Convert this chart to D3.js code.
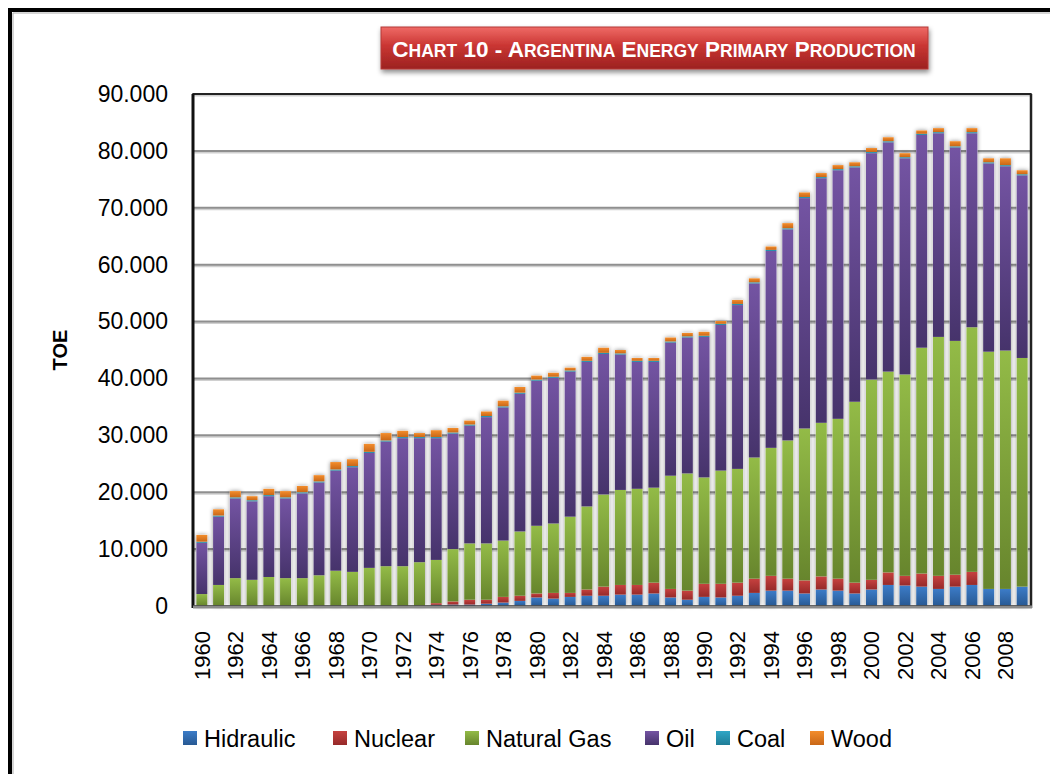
<!DOCTYPE html>
<html>
<head>
<meta charset="utf-8">
<script src="https://cdn.jsdelivr.net/npm/d3@7"></script>
<style>
  html, body { margin: 0; padding: 0; background: #fff; }
  svg { display: block; font-family: 'Liberation Sans', Arial, sans-serif; }
</style>
</head>
<body>
<svg id="chart" width="1050" height="774"></svg>
<script>
'use strict';

// data (thousand TOE)
var years = [1960, 1961, 1962, 1963, 1964, 1965, 1966, 1967, 1968, 1969,
  1970, 1971, 1972, 1973, 1974, 1975, 1976, 1977, 1978, 1979,
  1980, 1981, 1982, 1983, 1984, 1985, 1986, 1987, 1988, 1989,
  1990, 1991, 1992, 1993, 1994, 1995, 1996, 1997, 1998, 1999,
  2000, 2001, 2002, 2003, 2004, 2005, 2006, 2007, 2008, 2009];

var hidraulic = [0, 0, 0, 0, 0, 0, 0, 0, 0, 0,
  0, 0, 0, 0, 0.2, 0.25, 0.25, 0.4, 0.6, 0.9,
  1.5, 1.3, 1.6, 1.8, 1.8, 2.0, 2.0, 2.2, 1.5, 1.1,
  1.6, 1.5, 1.8, 2.3, 2.7, 2.7, 2.2, 2.9, 2.7, 2.2,
  2.9, 3.7, 3.6, 3.4, 3.0, 3.4, 3.7, 3.0, 3.0, 3.4];

var nuclear = [0, 0, 0, 0, 0, 0, 0, 0, 0, 0,
  0, 0, 0, 0, 0.3, 0.55, 0.85, 0.7, 1.0, 0.9,
  0.7, 1.0, 0.7, 1.1, 1.6, 1.7, 1.7, 1.9, 1.5, 1.6,
  2.3, 2.4, 2.3, 2.5, 2.6, 2.1, 2.3, 2.3, 2.1, 1.9,
  1.7, 2.2, 1.7, 2.3, 2.3, 2.1, 2.3, 0, 0, 0];

var naturalGas = [2.1, 3.7, 4.9, 4.6, 5.1, 4.9, 4.9, 5.4, 6.2, 6.0,
  6.7, 7.0, 7.0, 7.7, 7.6, 9.2, 9.9, 9.9, 9.9, 11.3,
  11.9, 12.2, 13.4, 14.6, 16.2, 16.7, 16.9, 16.7, 19.9, 20.6,
  18.7, 19.9, 20.0, 21.3, 22.5, 24.3, 26.7, 27.0, 28.1, 31.8,
  35.2, 35.3, 35.4, 39.7, 42.0, 41.1, 43.0, 41.7, 41.9, 40.2];

var oil = [9.0, 12.0, 14.0, 13.8, 14.2, 14.0, 14.9, 16.3, 17.6, 18.4,
  20.2, 21.9, 22.5, 21.8, 21.4, 20.3, 20.7, 22.2, 23.4, 24.2,
  25.5, 25.6, 25.5, 25.4, 24.7, 23.8, 22.3, 22.1, 23.4, 23.9,
  24.7, 25.6, 28.8, 30.6, 34.6, 37.1, 40.5, 43.0, 43.7, 41.2,
  39.8, 40.3, 38.0, 37.4, 35.8, 34.0, 34.1, 33.1, 32.4, 32.1];

var coal = [0.2, 0.2, 0.2, 0.2, 0.2, 0.2, 0.2, 0.2, 0.2, 0.2,
  0.2, 0.2, 0.2, 0.2, 0.2, 0.2, 0.2, 0.2, 0.2, 0.2,
  0.2, 0.2, 0.2, 0.2, 0.2, 0.2, 0.2, 0.2, 0.2, 0.2,
  0.2, 0.2, 0.2, 0.2, 0.2, 0.2, 0.2, 0.2, 0.2, 0.2,
  0.2, 0.2, 0.2, 0.2, 0.2, 0.2, 0.2, 0.2, 0.2, 0.2];

var wood = [1.2, 1.1, 1.1, 0.7, 1.1, 1.1, 1.1, 1.1, 1.3, 1.2,
  1.4, 1.3, 1.1, 0.7, 1.2, 0.8, 0.7, 0.8, 1.0, 1.0,
  0.7, 0.7, 0.5, 0.7, 0.9, 0.6, 0.5, 0.5, 0.7, 0.6,
  0.7, 0.5, 0.7, 0.7, 0.6, 0.9, 0.8, 0.7, 0.7, 0.7,
  0.7, 0.7, 0.7, 0.6, 0.7, 0.9, 0.7, 0.7, 1.2, 0.7];

var seriesNames = ['Hidraulic', 'Nuclear', 'Natural Gas', 'Oil', 'Coal', 'Wood'];
var seriesValues = [hidraulic, nuclear, naturalGas, oil, coal, wood];
var yTicks = [0, 10, 20, 30, 40, 50, 60, 70, 80, 90];
var titleWords = ['CHART', '10', '-', 'ARGENTINA', 'ENERGY', 'PRIMARY', 'PRODUCTION'];

// light (top) / dark (bottom) gradient stops per series
var colors = [
  ['#3c7cc8', '#285993'],
  ['#c6413f', '#962a29'],
  ['#93bb47', '#67852d'],
  ['#7454a3', '#46336b'],
  ['#2fa6c6', '#1f7d97'],
  ['#f38d2c', '#c96717']
];

var rows = years.map(function(y, i){
  var r = { year: y };
  seriesNames.forEach(function(s, j){ r[s] = seriesValues[j][i]; });
  return r;
});

var svg = d3.select('#chart');
var defs = svg.append('defs');

colors.forEach(function(c, i){
  var g = defs.append('linearGradient').attr('id', 'grad' + i)
    .attr('x1', 0).attr('y1', 0).attr('x2', 0).attr('y2', 1);
  g.append('stop').attr('offset', '0%').attr('stop-color', c[0]);
  g.append('stop').attr('offset', '100%').attr('stop-color', c[1]);
});

var tg = defs.append('linearGradient').attr('id', 'titleGrad')
  .attr('x1', 0).attr('y1', 0).attr('x2', 0).attr('y2', 1);
tg.append('stop').attr('offset', '0%').attr('stop-color', '#ef6a66');
tg.append('stop').attr('offset', '45%').attr('stop-color', '#c93532');
tg.append('stop').attr('offset', '100%').attr('stop-color', '#9c2220');

var shadow = defs.append('filter').attr('id', 'barShadow')
  .attr('x', '-50%').attr('y', '-5%').attr('width', '200%').attr('height', '110%');
shadow.append('feDropShadow').attr('dx', 0).attr('dy', 0).attr('stdDeviation', 2.2)
  .attr('flood-color', '#000').attr('flood-opacity', 0.45);

var tshadow = defs.append('filter').attr('id', 'titleShadow')
  .attr('x', '-5%').attr('y', '-30%').attr('width', '110%').attr('height', '170%');
tshadow.append('feDropShadow').attr('dx', 1).attr('dy', 3).attr('stdDeviation', 2.5)
  .attr('flood-color', '#000').attr('flood-opacity', 0.45);

// outer frame
svg.append('path').attr('d', 'M10,774V10H1050').attr('fill', 'none')
  .attr('stroke', '#000').attr('stroke-width', 4);
svg.append('path').attr('d', 'M13,774V13H1050').attr('fill', 'none')
  .attr('stroke', '#aaa').attr('stroke-width', 1);

var plot = { left: 193, right: 1031, top: 94, bottom: 606 };

var x = d3.scaleBand().domain(years).range([plot.left, plot.right])
  .paddingInner(0.343).paddingOuter(0.2);
var y = d3.scaleLinear().domain([0, 90]).range([plot.bottom, plot.top]);

// gridlines
var grid = svg.append('g');
yTicks.filter(function(t){ return t > 0; }).forEach(function(t){
  grid.append('line').attr('x1', plot.left).attr('x2', plot.right)
    .attr('y1', y(t) + 1.5).attr('y2', y(t) + 1.5)
    .attr('stroke', '#d0d0d0').attr('stroke-width', 2);
  grid.append('line').attr('x1', plot.left).attr('x2', plot.right)
    .attr('y1', y(t)).attr('y2', y(t))
    .attr('stroke', '#8f8f8f').attr('stroke-width', 2);
});

// stacked bars
var stack = d3.stack().keys(seriesNames);
var stacked = stack(rows);

var totals = rows.map(function(r){
  return d3.sum(seriesNames, function(s){ return r[s]; });
});

svg.append('g').selectAll('rect')
  .data(rows).enter().append('rect')
  .attr('x', function(d){ return x(d.year); })
  .attr('width', x.bandwidth())
  .attr('y', function(d, i){ return y(totals[i]); })
  .attr('height', function(d, i){ return y(0) - y(totals[i]); })
  .attr('fill', '#fff')
  .attr('filter', 'url(#barShadow)');

var layers = svg.append('g').selectAll('g')
  .data(stacked).enter().append('g')
  .attr('fill', function(d, i){ return 'url(#grad' + i + ')'; });

layers.selectAll('rect')
  .data(function(d){ return d; }).enter().append('rect')
  .attr('x', function(d){ return x(d.data.year); })
  .attr('width', x.bandwidth())
  .attr('y', function(d){ return y(d[1]); })
  .attr('height', function(d){ return Math.max(0, y(d[0]) - y(d[1])); });

// plot border + axes
svg.append('rect').attr('x', plot.left).attr('y', plot.top)
  .attr('width', plot.right - plot.left).attr('height', plot.bottom - plot.top)
  .attr('fill', 'none').attr('stroke', '#000').attr('stroke-width', 1.5);
svg.append('line').attr('x1', plot.left).attr('x2', plot.left)
  .attr('y1', plot.top).attr('y2', plot.bottom + 2)
  .attr('stroke', '#111').attr('stroke-width', 3);
svg.append('line').attr('x1', plot.right).attr('x2', plot.right)
  .attr('y1', plot.top).attr('y2', plot.bottom + 2)
  .attr('stroke', '#222').attr('stroke-width', 2.5);
svg.append('line').attr('x1', plot.left).attr('x2', plot.right + 1)
  .attr('y1', plot.bottom + 1).attr('y2', plot.bottom + 1)
  .attr('stroke', '#8a8a8a').attr('stroke-width', 3);

// y axis labels
var yAxis = d3.axisLeft(y).tickValues(yTicks).tickSize(0).tickPadding(25)
  .tickFormat(function(d){ return d === 0 ? '0' : d3.format('.3f')(d); });
var ya = svg.append('g').attr('transform', 'translate(' + plot.left + ',0)').call(yAxis);
ya.select('.domain').remove();
ya.selectAll('text').attr('font-size', 23).attr('fill', '#000')
  .attr('font-family', "'Liberation Sans', Arial, sans-serif");

// x axis labels (even years)
var xAxis = d3.axisBottom(x).tickValues(years.filter(function(yr){ return yr % 2 === 0; }))
  .tickSize(0);
var xa = svg.append('g').attr('transform', 'translate(0,' + plot.bottom + ')').call(xAxis);
xa.select('.domain').remove();
xa.selectAll('text')
  .attr('font-size', 22).attr('fill', '#000')
  .attr('font-family', "'Liberation Sans', Arial, sans-serif")
  .attr('text-anchor', 'end')
  .attr('transform', 'rotate(-90)')
  .attr('x', -25).attr('y', 0).attr('dy', '0.36em');

// y title
svg.append('text').attr('transform', 'translate(67,350) rotate(-90)')
  .attr('text-anchor', 'middle').attr('font-size', 20).attr('font-weight', 'bold')
  .text('TOE');

// title box
svg.append('rect').attr('x', 381).attr('y', 27).attr('width', 547).attr('height', 42)
  .attr('fill', 'url(#titleGrad)').attr('stroke', '#b33a36').attr('stroke-width', 1)
  .attr('filter', 'url(#titleShadow)');
var title = svg.append('text').attr('x', 654).attr('y', 57).attr('text-anchor', 'middle')
  .attr('fill', '#fff').attr('font-weight', 'bold');
titleWords.forEach(function(w, i){
  var isNum = /^[0-9-]+$/.test(w);
  title.append('tspan').attr('font-size', 22.5).text((i > 0 ? ' ' : '') + (isNum ? w : w.charAt(0)));
  if (!isNum) title.append('tspan').attr('font-size', 17.5).text(w.slice(1));
});

// legend
var legendX = [183, 333, 465, 645, 716, 810];
var legend = svg.append('g').selectAll('g')
  .data(seriesNames).enter().append('g')
  .attr('transform', function(d, i){ return 'translate(' + legendX[i] + ',731)'; });
legend.append('rect').attr('width', 14).attr('height', 14)
  .attr('fill', function(d, i){ return 'url(#grad' + i + ')'; });
legend.append('text').attr('x', 21).attr('y', 15.5).attr('font-size', 23.5)
  .text(function(d){ return d; });
</script>
</body>
</html>
